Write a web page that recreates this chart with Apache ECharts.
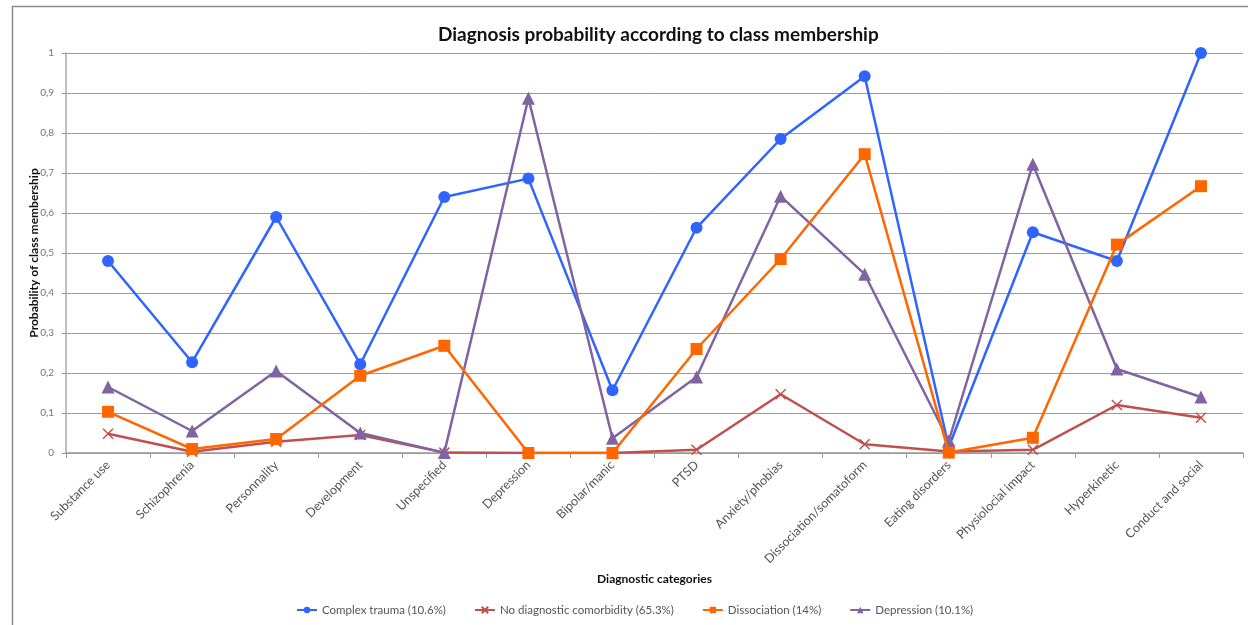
<!DOCTYPE html>
<html>
<head>
<meta charset="utf-8">
<script src="https://cdn.jsdelivr.net/npm/echarts@6/dist/echarts.min.js"></script>
<style>
html,body{margin:0;padding:0;background:#fff;}
#chart{width:1248px;height:625px;}
</style>
</head>
<body>
<div id="chart"></div>
<script>
// categories along the x axis
var categories = ['Substance use', 'Schizophrenia', 'Personnality', 'Development', 'Unspecified', 'Depression',
  'Bipolar/manic', 'PTSD', 'Anxiety/phobias', 'Dissociation/somatoform', 'Eating disorders',
  'Physiolocial impact', 'Hyperkinetic', 'Conduct and social'];

// class values
var complexTrauma = [0.48, 0.227, 0.59, 0.222, 0.64, 0.686, 0.157, 0.563, 0.785, 0.942, 0.015, 0.552, 0.48, 1.0];
var noComorbidity = [0.048, 0.003, 0.028, 0.045, 0.001, 0, 0, 0.008, 0.147, 0.022, 0.004, 0.008, 0.12, 0.088];
var dissociation = [0.103, 0.01, 0.035, 0.193, 0.268, 0, 0, 0.26, 0.485, 0.747, 0.001, 0.038, 0.521, 0.667];
var depression = [0.165, 0.055, 0.205, 0.05, 0.001, 0.887, 0.037, 0.19, 0.642, 0.447, 0.03, 0.722, 0.21, 0.14];

var seriesNames = ['Complex trauma (10.6%)', 'No diagnostic comorbidity (65.3%)', 'Dissociation (14%)', 'Depression (10.1%)'];

var font = 'Lato, "Open Sans", sans-serif';

var myChart = echarts.init(document.getElementById('chart'));

function lineSeries(name, data, color, symbol, size, z) {
  return {
    name: name,
    type: 'line',
    data: data,
    symbol: symbol,
    symbolSize: size,
    z: z,
    color: color,
    lineStyle: { color: color, width: 2.5 },
    itemStyle: { color: color },
    emphasis: { disabled: true },
    animation: false
  };
}

// the "x" marker for the red series
var crossPath = 'path://M0,0 L10,10 M10,0 L0,10';

var option = {
  backgroundColor: '#fff',
  title: {
    text: 'Diagnosis probability according to class membership',
    left: 433,
    top: 20,
    textStyle: { fontFamily: font, fontSize: 19, fontWeight: 'bold', color: '#111' }
  },
  graphic: [{
    type: 'rect',
    shape: { x: 12.5, y: 6.5, width: 1400, height: 800 },
    style: { fill: 'none', stroke: '#8a8a8a', lineWidth: 1.5 },
    silent: true
  }],
  legend: {
    bottom: 4,
    left: 291,
    itemWidth: 20,
    itemHeight: 8,
    itemGap: 28,
    textStyle: { fontFamily: font, fontSize: 11.5, color: '#555' },
    data: seriesNames
  },
  grid: { left: 66, right: 5, top: 53, bottom: 172 },
  xAxis: {
    type: 'category',
    data: categories,
    boundaryGap: true,
    name: 'Diagnostic categories',
    nameLocation: 'middle',
    nameGap: 120,
    nameTextStyle: { fontFamily: font, fontSize: 12, fontWeight: 'bold', color: '#111' },
    axisLine: { lineStyle: { color: '#999', width: 1.5 } },
    axisTick: { show: true, alignWithLabel: false, length: 5, lineStyle: { color: '#999' } },
    axisLabel: { rotate: 45, fontFamily: font, fontSize: 12.5, color: '#555', margin: 10, interval: 0 }
  },
  yAxis: {
    type: 'value',
    min: 0,
    max: 1,
    interval: 0.1,
    name: 'Probability of class membership',
    nameLocation: 'middle',
    nameGap: 26,
    nameMoveOverlap: false,
    nameRotate: 90,
    nameTextStyle: { fontFamily: font, fontSize: 12, fontWeight: 'bold', color: '#111' },
    axisLine: { show: true, lineStyle: { color: '#aaa', width: 1.5 } },
    axisTick: { show: true, length: 4, lineStyle: { color: '#999' } },
    splitLine: { lineStyle: { color: '#9a9a9a', width: 1 } },
    axisLabel: {
      fontFamily: font, fontSize: 10, color: '#777', margin: 12,
      formatter: function (v) { return String(Math.round(v * 10) / 10).replace('.', ','); }
    }
  },
  series: [
    lineSeries(seriesNames[0], complexTrauma, '#2f64ff', 'circle', 12, 2),
    lineSeries(seriesNames[1], noComorbidity, '#c0504d', crossPath, 10, 3),
    lineSeries(seriesNames[2], dissociation, '#ff6600', 'rect', 12, 5),
    lineSeries(seriesNames[3], depression, '#8064a2', 'triangle', 13, 4)
  ]
};

// red crosses are drawn as strokes
option.series[1].itemStyle = { color: '#c0504d', borderColor: '#c0504d', borderWidth: 1.5 };

myChart.setOption(option);
</script>
</body>
</html>
